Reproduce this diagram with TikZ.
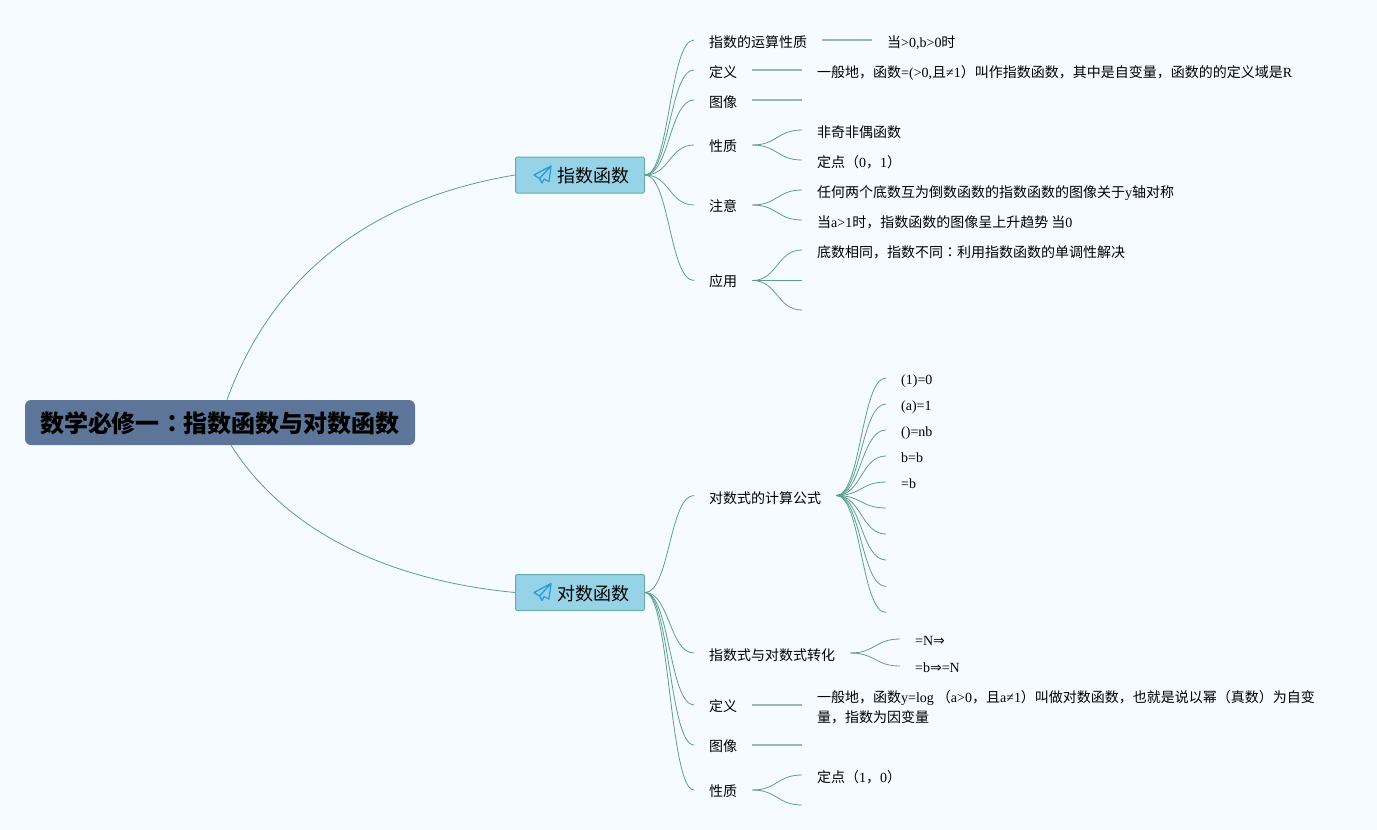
\documentclass[tikz,border=0pt]{standalone}
\usepackage{fontspec}
\setmainfont{Liberation Serif}
\newfontfamily\cjk{Noto Sans CJK SC}
\newfontfamily\cjktc{Noto Sans CJK TC}
\newfontfamily\arrowfont{DejaVu Sans}
\newcommand{\C}[1]{{\cjk #1}}
\newcommand{\CC}{{\cjktc ：}}
\usetikzlibrary{calc}
\definecolor{bgc}{HTML}{F5FBFF}
\definecolor{linec}{HTML}{5E9E92}
\definecolor{stemc}{HTML}{8FBDB6}
\definecolor{rootc}{HTML}{5D7599}
\definecolor{branchc}{HTML}{96D3E6}
\definecolor{branchb}{HTML}{6CA9A9}
\definecolor{planec}{HTML}{2A9BDC}
\tikzset{
  x=1pt,y=-1pt,
  rootbox/.style={draw=none,fill=rootc,rounded corners=6pt,minimum width=390pt,minimum height=45pt,inner sep=0pt,text height=24pt,text depth=4pt,font=\cjk\bfseries\fontsize{24}{28}\selectfont,text=black},
  branchbox/.style={draw=branchb,line width=1pt,fill=branchc,rounded corners=1.5pt,minimum width=129pt,minimum height=36pt,inner sep=0pt,text height=18pt,text depth=3pt,font=\cjk\fontsize{18}{22}\selectfont,text=black},
  topic/.style={anchor=west,inner xsep=15pt,inner ysep=0pt,text height=16pt,text depth=2pt,font=\fontsize{14}{20}\selectfont,text=black},
  raised/.style={text height=15pt,text depth=3pt},
  lowered/.style={text height=17pt,text depth=1pt},
  conn/.style={draw=linec,line width=0.8pt},
  stem/.style={draw=stemc,line width=1.3pt},
  plane/.style={draw=planec,line width=1.3pt,line join=round,line cap=round},
}
\newcommand{\curve}[2]{\draw[conn] (#1) .. controls ($(#1)!0.5!(#2 |- #1)$) and ($(#1 |- #2)!0.5!(#2)$) .. (#2);}
\newcommand{\planeicon}[1]{\begin{scope}[shift={($(#1.west)+(19,0)$)}]
  \draw[plane] (17,-9) -- (0,0) -- (5.5,3.5) -- (8,8) -- (10,4) -- (15,6.5) -- cycle (17,-9) -- (5.5,3.5);
\end{scope}}
\begin{document}
\begin{tikzpicture}
\useasboundingbox[fill=bgc] (0,0) rectangle (1377,830);
% root and branches
\node[rootbox] (root) at (220,422.5) {数学必修一\CC 指数函数与对数函数};
\node[branchbox] (b1) at (580,175) {\hspace*{26pt}指数函数};
\node[branchbox] (b2) at (580,592.5) {\hspace*{26pt}对数函数};
\planeicon{b1}
\planeicon{b2}
\draw[conn] ($(root.north)+(7,0)$) .. controls (280,255) and (395,195) .. (b1.west);
\draw[conn] ($(root.south)+(11,0)$) .. controls (285,530) and (385,580) .. (b2.west);
% upper topics
\node[topic] (a1) at (694,40) {\C{指数的运算性质}};
\node[topic] (a2) at (694,70) {\C{定义}};
\node[topic] (a3) at (694,100) {\C{图像}};
\node[topic,raised] (a4) at (694,145) {\C{性质}};
\node[topic,raised] (a5) at (694,205) {\C{注意}};
\node[topic,raised] (a6) at (694,280.5) {\C{应用}};
\foreach \n in {a1,a2,a3,a4,a5,a6} {\curve{b1.east}{\n.west}}
\node[topic] (a1x) at (872,40) {\C{当}>0,b>0\C{时}};
\draw[stem] (a1.east) -- (a1x.west);
\node[topic] (a2x) at (802,70) {\C{一般地，函数}=(>0,\C{且}≠1\C{）叫作指数函数，其中是自变量，函数的的定义域是}R};
\draw[stem] (a2.east) -- (a2x.west);
\coordinate (a3x) at (802,100);
\draw[stem] (a3.east) -- (a3x);
\node[topic] (a4x) at (802,130) {\C{非奇非偶函数}};
\node[topic] (a4y) at (802,160) {\C{定点（}0\C{，}1\C{）}};
\curve{a4.east}{a4x.west}
\curve{a4.east}{a4y.west}
\node[topic] (a5x) at (802,190) {\C{任何两个底数互为倒数函数的指数函数的图像关于}y\C{轴对称}};
\node[topic] (a5y) at (802,220) {\C{当}a>1\C{时，指数函数的图像呈上升趋势 当}0};
\curve{a5.east}{a5x.west}
\curve{a5.east}{a5y.west}
\node[topic] (a6x) at (802,250) {\C{底数相同，指数不同}\CC\C{利用指数函数的单调性解决}};
\coordinate (a6y) at (802,280.5);
\coordinate (a6z) at (802,310);
\curve{a6.east}{a6x.west}
\curve{a6.east}{a6y}
\curve{a6.east}{a6z}
% lower topics
\node[topic,lowered] (c1) at (694,495.5) {\C{对数式的计算公式}};
\node[topic] (c2) at (694,653) {\C{指数式与对数式转化}};
\node[topic,raised] (c3) at (694,705) {\C{定义}};
\node[topic,raised] (c4) at (694,745) {\C{图像}};
\node[topic,raised] (c5) at (694,790) {\C{性质}};
\foreach \n in {c1,c2,c3,c4,c5} {\curve{b2.east}{\n.west}}
\node[topic,raised] (d1) at (886,378) {(1)=0};
\node[topic,raised] (d2) at (886,404) {(a)=1};
\node[topic,raised] (d3) at (886,430) {()=nb};
\node[topic,raised] (d4) at (886,456) {b=b};
\node[topic,raised] (d5) at (886,482) {=b};
\foreach \n in {d1,d2,d3,d4,d5} {\curve{c1.east}{\n.west}}
\foreach \n/\y in {d6/508,d7/534,d8/560,d9/586.5,d10/612.5} {\coordinate (\n) at (886,\y); \curve{c1.east}{\n}}
\node[topic,raised] (e1) at (900,639) {=N\arrowfont⇒};
\node[topic,raised] (e2) at (900,666) {=b{\arrowfont⇒}=N};
\curve{c2.east}{e1.west}
\curve{c2.east}{e2.west}
\node[topic,align=left,text height=36pt,text depth=2pt] (f1) at (802,705) {\C{一般地，函数}y=log\hspace{3pt}\C{（}a>0\C{，且}a≠1\C{）叫做对数函数，也就是说以幂（真数）为自变}\\\C{量，指数为因变量}};
\draw[stem] (c3.east) -- (f1.west);
\coordinate (f2) at (802,745);
\draw[stem] (c4.east) -- (f2);
\node[topic] (g1) at (802,775) {\C{定点（}1\C{，}0\C{）}};
\coordinate (g2) at (802,805);
\curve{c5.east}{g1.west}
\curve{c5.east}{g2}
\end{tikzpicture}
\end{document}
